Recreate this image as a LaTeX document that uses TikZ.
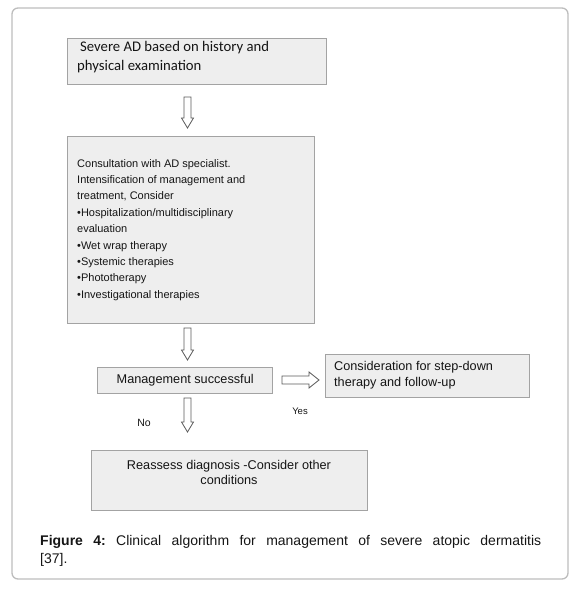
\documentclass[tikz,border=0pt]{standalone}
\usepackage{fontspec}
\setmainfont{Liberation Sans}
\newfontfamily\calib{Carlito}
\definecolor{boxfill}{HTML}{EEEEEE}
\definecolor{boxline}{HTML}{A3A3A3}
\definecolor{framecol}{HTML}{BDBDBD}
\definecolor{arrline}{HTML}{5A5A5A}
\definecolor{txtcol}{HTML}{151515}
\tikzset{
  box/.style={draw=boxline, fill=boxfill, line width=1.4pt, inner sep=0pt, anchor=north west, text=txtcol},
  txt/.style={inner sep=0pt, text=txtcol},
  blk/.style={draw=arrline, fill=white, line width=0.8pt, line join=miter},
  pics/downblk/.style={code={\draw[blk] (-3.5,0) -- (3.5,0) -- (3.5,#1-10) -- (6,#1-10) -- (0,#1) -- (-6,#1-10) -- (-3.5,#1-10) -- cycle;}},
  pics/rightblk/.style={code={\draw[blk] (0,-4) -- (#1-10,-4) -- (#1-10,-8) -- (#1,0) -- (#1-10,8) -- (#1-10,4) -- (0,4) -- cycle;}}
}
\begin{document}
\frenchspacing
\begin{tikzpicture}[x=1pt,y=-1pt]
\useasboundingbox (0,0) rectangle (577,594);
\draw[framecol, line width=1.3pt, rounded corners=6pt] (12,8) rectangle (568,579);

% box 1
\node[box, minimum width=259pt, minimum height=46pt] (b1) at (67,38) {};
\node[txt, anchor=north west, align=left, font=\calib\fontsize{14.7}{19}\selectfont] (t1) at (77,41)
  {\hspace*{3pt}Severe AD based on history and\\physical examination};

% box 2
\node[box, minimum width=247pt, minimum height=187pt] (b2) at (67,136) {};
\node[txt, anchor=north west, align=left, font=\fontsize{11}{16.4}\selectfont] (t2) at (77,159)
  {Consultation with AD specialist.\\
   Intensification of management and\\
   treatment, Consider\\
   •Hospitalization/multidisciplinary\\
   evaluation\\
   •Wet wrap therapy\\
   •Systemic therapies\\
   •Phototherapy\\
   •Investigational therapies};

% box 3
\node[box, minimum width=175pt, minimum height=26pt, font=\fontsize{12.7}{15}\selectfont] (b3) at (97,367) {Management successful};

% box 4
\node[box, minimum width=204pt, minimum height=43pt] (b4) at (325,354) {};
\node[txt, anchor=west, align=left, font=\fontsize{12.7}{16}\selectfont] (t4) at (334,375.5)
  {Consideration for step-down\\therapy and follow-up};

% box 5
\node[box, minimum width=276pt, minimum height=60pt] (b5) at (91,450) {};
\node[txt, anchor=north, align=center, font=\fontsize{12.7}{15}\selectfont] (t5) at (229,460.5)
  {Reassess diagnosis -Consider other\\conditions};

% labels
\node[txt, font=\fontsize{9.5}{11}\selectfont] (yes) at (300,411) {Yes};
\node[txt, font=\fontsize{10.5}{12}\selectfont] (no) at (144,423) {No};

% block arrows
\pic at (187.5,97) {downblk=31};
\pic at (187.5,328) {downblk=32};
\pic at (187.5,398) {downblk=34};
\pic at (282,380) {rightblk=37};

% caption
\node[txt, anchor=north west, text width=501pt, align=justify, font=\fontsize{14}{18}\selectfont] (cap) at (40,535)
  {\hyphenpenalty=10000\frenchspacing\textbf{Figure 4:} Clinical algorithm for management of severe atopic dermatitis\linebreak{}[37].};
\end{tikzpicture}
\end{document}
